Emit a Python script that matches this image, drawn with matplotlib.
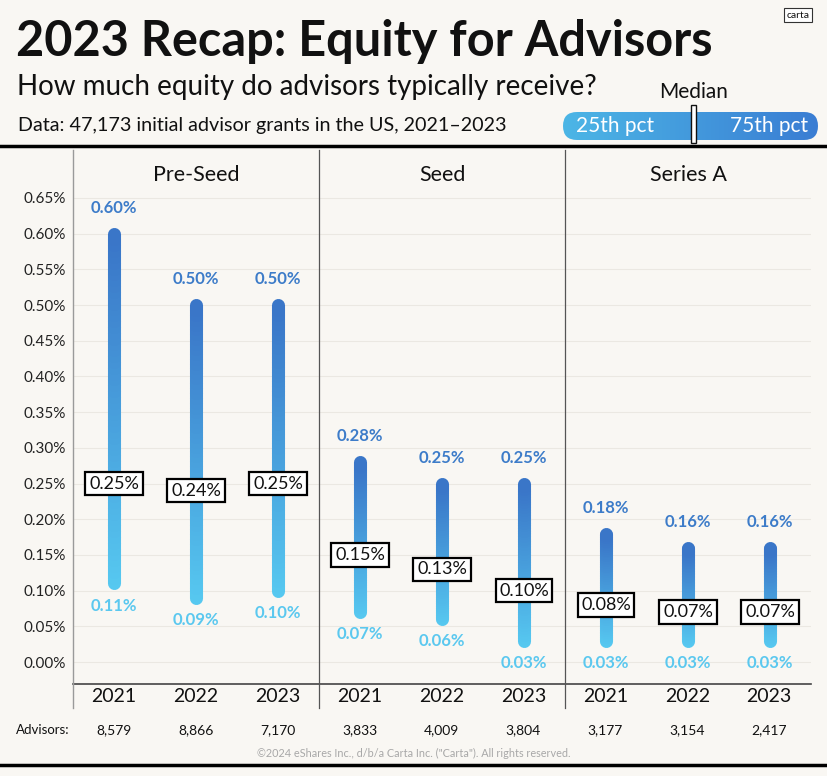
import numpy as np
import matplotlib.pyplot as plt
from matplotlib.collections import LineCollection
from matplotlib.colors import LinearSegmentedColormap
from matplotlib.patches import FancyBboxPatch, Rectangle

plt.rcParams['font.family'] = ['Lato', 'DejaVu Sans']

# datos
etapas = ['Pre-Seed', 'Seed', 'Series A']
anios = ['2021', '2022', '2023'] * 3
p25 = [0.11, 0.09, 0.10, 0.07, 0.06, 0.03, 0.03, 0.03, 0.03]
mediana = [0.25, 0.24, 0.25, 0.15, 0.13, 0.10, 0.08, 0.07, 0.07]
p75 = [0.60, 0.50, 0.50, 0.28, 0.25, 0.25, 0.18, 0.16, 0.16]
asesores = ['8,579', '8,866', '7,170', '3,833', '4,009', '3,804', '3,177', '3,154', '2,417']
yticks = [0.00, 0.05, 0.10, 0.15, 0.20, 0.25, 0.30, 0.35, 0.40, 0.45, 0.50, 0.55, 0.60, 0.65]

fondo = '#f9f7f3'
azul_osc = '#3a76c8'
azul_cla = '#56c8f0'
cmap = LinearSegmentedColormap.from_list('barra', [azul_cla, azul_osc])

W, H = 828, 776
fig = plt.figure(figsize=(W / 100, H / 100), dpi=100, facecolor=fondo)

def fx(px):
    return px / W

def fy(py):
    return 1 - py / H

ax = fig.add_axes([fx(73), fy(684), fx(811) - fx(73), fy(150) - fy(684)])
ax.set_facecolor(fondo)
ax.set_xlim(-0.5, 8.5)
ax.set_ylim(-0.0308, 0.7172)
for s in ax.spines.values():
    s.set_visible(False)
ax.set_yticks(yticks)
ax.set_yticklabels([f'{v:.2f}%' for v in yticks], fontsize=11, color='#222222')
ax.tick_params(axis='y', length=0, pad=5)
ax.set_xticks([])
for v in yticks:
    ax.axhline(v, color='#ebe8e2', lw=0.8, zorder=0)

# eje inferior y separadores
ax.axhline(-0.0308, color='#444444', lw=1.2, clip_on=False)
ax.plot([-0.5, -0.5], [0.7172, -0.065], color='#9a9a9a', lw=1.0, clip_on=False)
for xs in [2.5, 5.5]:
    ax.plot([xs, xs], [0.7172, -0.065], color='#555555', lw=0.9, clip_on=False)

# encabezados de grupo
for i, etapa in enumerate(etapas):
    ax.text(3 * i + 1, 0.682, etapa, ha='center', va='center', fontsize=15.5, color='#111111')

# barras con degradado
n = 60
for i in range(len(p25)):
    ys = np.linspace(p25[i], p75[i], n + 1)
    segs = [[(i, ys[k]), (i, ys[k + 1])] for k in range(n)]
    cols = cmap(np.linspace(0, 1, n))
    lc = LineCollection(segs, colors=cols, linewidths=9.4, capstyle='round', zorder=3)
    ax.add_collection(lc)

    ax.annotate(f'{p75[i]:.2f}%', (i, p75[i]), xytext=(0, 18.5), textcoords='offset points',
                ha='center', va='center', fontsize=12, fontweight='bold', color='#3d7cc9')
    ax.annotate(f'{p25[i]:.2f}%', (i, p25[i]), xytext=(0, -16), textcoords='offset points',
                ha='center', va='center', fontsize=12, fontweight='bold', color='#5bc8ef')
    ax.text(i, mediana[i], f'{mediana[i]:.2f}%', ha='center', va='center', fontsize=13,
            color='#111111', zorder=5,
            bbox=dict(boxstyle='square,pad=0.2', facecolor='white', edgecolor='black', lw=1.6))

    fig.text(fx(114 + 81.9 * i), fy(697), anios[i], ha='center', va='center', fontsize=14, color='#111111')
    fig.text(fx(114 + 81.9 * i), fy(730), asesores[i], ha='center', va='center', fontsize=10, color='#111111')

fig.text(fx(43), fy(730), 'Advisors:', ha='center', va='center', fontsize=9.5, color='#111111')
fig.text(0.5, fy(753), '©2024 eShares Inc., d/b/a Carta Inc. ("Carta"). All rights reserved.',
         ha='center', va='center', fontsize=7.8, color='#a8a8a8')

# cabecera
fig.text(fx(16), fy(42), '2023 Recap: Equity for Advisors', ha='left', va='center',
         fontsize=35, fontweight='bold', color='#111111')
fig.text(fx(17), fy(87), 'How much equity do advisors typically receive?', ha='left', va='center',
         fontsize=20, color='#111111')
fig.text(fx(18), fy(126), 'Data: 47,173 initial advisor grants in the US, 2021\u20132023', ha='left', va='center',
         fontsize=14.2, color='#111111')
fig.text(fx(798), fy(15), 'carta', ha='center', va='center', fontsize=7.5, color='#111111',
         bbox=dict(boxstyle='square,pad=0.25', facecolor='white', edgecolor='#333333', lw=0.8))

# leyenda con degradado
lax = fig.add_axes([0, 0, 1, 1], facecolor='none')
lax.set_xlim(0, W)
lax.set_ylim(H, 0)
lax.axis('off')
caja = FancyBboxPatch((563, 112), 255, 28, boxstyle='round,pad=0,rounding_size=14',
                      facecolor='none', edgecolor='none')
lax.add_patch(caja)
grad = np.linspace(0, 1, 256).reshape(1, -1)
cmap_ley = LinearSegmentedColormap.from_list('ley', ['#4cb6e6', '#3a7dd3'])
im = lax.imshow(grad, extent=[563, 818, 140, 112], cmap=cmap_ley, aspect='auto', zorder=2)
im.set_clip_path(caja)
lax.text(615, 126, '25th pct', ha='center', va='center', fontsize=15, color='white', zorder=3)
lax.text(769, 126, '75th pct', ha='center', va='center', fontsize=15, color='white', zorder=3)
lax.add_patch(Rectangle((691, 105), 5, 38, facecolor='white', edgecolor='#111111', lw=1.0, zorder=4))
lax.text(694, 92, 'Median', ha='center', va='center', fontsize=15, color='#111111')

# lineas gruesas
lax.plot([0, W], [146, 146], color='black', lw=2.5, zorder=1)
lax.plot([0, W], [765, 765], color='black', lw=2.5)

fig.savefig('out.png', dpi=100, facecolor=fondo)
